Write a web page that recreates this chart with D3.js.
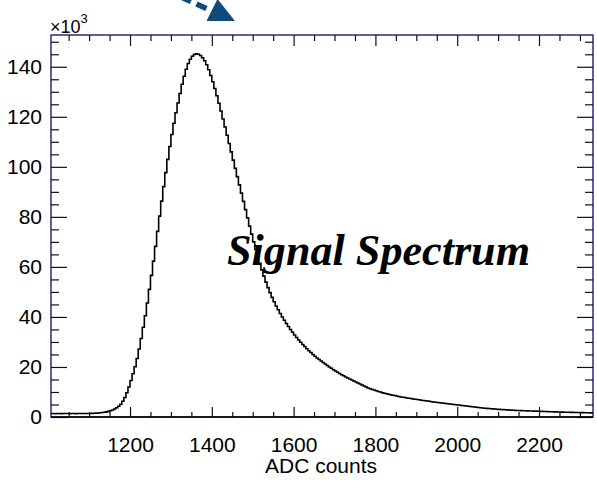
<!DOCTYPE html>
<html>
<head>
<meta charset="utf-8">
<script src="https://cdn.jsdelivr.net/npm/d3@7"></script>
<style>
	body { margin: 0; background: #fff; }
	svg { display: block; }
	.tick text { font-family: "Liberation Sans", Arial, sans-serif; font-size: 21px; fill: #000; }
</style>
</head>
<body>
<div id="visDiv"></div>
<script>
// histogram: first bin low edge and bin width (ADC counts)
var binStart = 1005,
	binWidth = 5;

// bin contents, in units of 10^3 entries
var counts = [
	1.37, 1.38, 1.36, 1.37, 1.38, 1.36, 1.37, 1.38, 1.37, 1.36,
	1.38, 1.37, 1.36, 1.38, 1.37, 1.38, 1.37, 1.39, 1.40, 1.42,
	1.45, 1.49, 1.54, 1.60, 1.68, 1.78, 1.90, 2.05, 2.25, 2.5,
	2.8, 3.2, 3.7, 4.3, 5.1, 6.3, 7.8, 9.7, 12.0, 14.6,
	17.3, 20.1, 23.4, 27.2, 31.4, 35.9, 40.5, 45.6, 51.0, 56.6,
	62.3, 68.2, 74.2, 80.3, 86.3, 92.1, 97.7, 103.0, 108.1, 112.9,
	117.4, 121.6, 125.5, 129.3, 133.0, 136.2, 139.0, 141.3, 143.0, 144.2,
	144.9, 145.2, 145.0, 144.5, 143.6, 142.4, 140.8, 138.8, 136.5, 134.0,
	131.3, 128.4, 125.4, 122.3, 119.1, 115.9, 112.6, 109.3, 106.0, 102.7,
	99.4, 96.1, 92.8, 89.5, 86.2, 82.9, 79.6, 76.3, 73.1, 70.0,
	67.0, 64.1, 61.4, 58.8, 56.3, 53.9, 51.7, 49.7, 47.8, 46.1,
	44.4, 42.9, 41.4, 40.0, 38.7, 37.4, 36.2, 35.0, 33.9, 32.8,
	31.8, 30.8, 29.9, 29.0, 28.2, 27.3, 26.5, 25.8, 25.0, 24.3,
	23.6, 23.0, 22.4, 21.8, 21.2, 20.6, 20.0, 19.5, 18.9, 18.4,
	17.9, 17.4, 16.9, 16.5, 16.0, 15.6, 15.2, 14.8, 14.4, 14.0,
	13.6, 13.2, 12.8, 12.4, 12.0, 11.6, 11.3, 11.0, 10.8, 10.5,
	10.2, 10.0, 9.7, 9.5, 9.3, 9.1, 8.9, 8.7, 8.6, 8.4,
	8.2, 8.0, 7.9, 7.8, 7.6, 7.5, 7.4, 7.2, 7.1, 7.0,
	6.9, 6.7, 6.6, 6.5, 6.4, 6.3, 6.1, 6.0, 5.9, 5.8,
	5.7, 5.6, 5.5, 5.4, 5.3, 5.2, 5.1, 5.0, 4.9, 4.8,
	4.7, 4.6, 4.5, 4.4, 4.3, 4.2, 4.1, 4.0, 3.9, 3.8,
	3.7, 3.6, 3.5, 3.45, 3.4, 3.3, 3.25, 3.2, 3.1, 3.05,
	3.0, 2.95, 2.9, 2.85, 2.8, 2.75, 2.7, 2.66, 2.62, 2.58,
	2.55, 2.51, 2.48, 2.45, 2.42, 2.39, 2.36, 2.33, 2.30, 2.27,
	2.24, 2.21, 2.18, 2.15, 2.12, 2.09, 2.06, 2.03, 2.00, 1.97,
	1.94, 1.92, 1.90, 1.88, 1.86, 1.84, 1.82, 1.80, 1.78, 1.76,
	1.74, 1.72, 1.70, 1.68, 1.66, 1.64
];

var xRange = [1006.8, 2332],
	yRange = [0, 152.7];

var xMajor = [1200, 1400, 1600, 1800, 2000, 2200],
	xMinor = [1050, 1100, 1150, 1250, 1300, 1350, 1450, 1500, 1550, 1650, 1700, 1750,
		1850, 1900, 1950, 2050, 2100, 2150, 2250, 2300],
	yMajor = [0, 20, 40, 60, 80, 100, 120, 140],
	yMinor = [5, 10, 15, 25, 30, 35, 45, 50, 55, 65, 70, 75, 85, 90, 95,
		105, 110, 115, 125, 130, 135, 145, 150];

var xTitle = 'ADC counts',
	label = 'Signal Spectrum';

(function () {
	var margin = {top: 35, right: 4, bottom: 66, left: 51},
		w = 597 - margin.left - margin.right,
		h = 483 - margin.top - margin.bottom,
		frameColor = '#2b2b7e';

	var svg = d3.select('#visDiv')
		.append('svg')
			.attr('width', 597)
			.attr('height', 483);

	var g = svg.append('g')
		.attr('transform', 'translate(' + margin.left + ',' + margin.top + ')');

	var x = d3.scaleLinear().domain(xRange).range([0, w]);
	var y = d3.scaleLinear().domain(yRange).range([h, 0]);

	// frame (navy on three sides, bottom axis black)
	g.append('rect')
		.attr('x', 0).attr('y', 0)
		.attr('width', w).attr('height', h)
		.style('fill', 'none')
		.style('stroke', frameColor)
		.style('stroke-width', 1.5);

	function noDomain(sel) {
		sel.select('.domain').remove();
		sel.selectAll('.tick line').style('stroke', '#111').style('stroke-width', 1.2);
	}

	// bottom axis: ticks inside
	g.append('g')
		.attr('transform', 'translate(0,' + h + ')')
		.call(d3.axisBottom(x).tickValues(xMajor).tickSizeInner(-10).tickPadding(20).tickFormat(d3.format('d')))
		.call(noDomain);
	g.append('g')
		.attr('transform', 'translate(0,' + h + ')')
		.call(d3.axisBottom(x).tickValues(xMinor).tickSizeInner(-5).tickFormat(''))
		.call(noDomain);
	// top axis
	g.append('g')
		.call(d3.axisTop(x).tickValues(xMajor).tickSizeInner(-11).tickFormat(''))
		.call(noDomain);
	g.append('g')
		.call(d3.axisTop(x).tickValues(xMinor).tickSizeInner(-6).tickFormat(''))
		.call(noDomain);
	// left axis
	g.append('g')
		.call(d3.axisLeft(y).tickValues(yMajor).tickSizeInner(-16).tickPadding(9).tickFormat(d3.format('d')))
		.call(noDomain);
	g.append('g')
		.call(d3.axisLeft(y).tickValues(yMinor).tickSizeInner(-8).tickFormat(''))
		.call(noDomain);
	// right axis
	g.append('g')
		.attr('transform', 'translate(' + w + ',0)')
		.call(d3.axisRight(y).tickValues(yMajor).tickSizeInner(-16).tickFormat(''))
		.call(noDomain);
	g.append('g')
		.attr('transform', 'translate(' + w + ',0)')
		.call(d3.axisRight(y).tickValues(yMinor).tickSizeInner(-8).tickFormat(''))
		.call(noDomain);

	// bottom axis line in black
	g.append('line')
		.attr('x1', 0).attr('x2', w)
		.attr('y1', h).attr('y2', h)
		.style('stroke', '#000')
		.style('stroke-width', 1.5);

	// histogram outline
	var pts = [];
	counts.forEach(function (c, i) {
		var lo = binStart + i * binWidth;
		pts.push([lo, c]);
		pts.push([lo + binWidth, c]);
	});

	g.append('clipPath').attr('id', 'clip')
		.append('rect').attr('width', w).attr('height', h);

	g.append('path')
		.datum(pts)
		.attr('clip-path', 'url(#clip)')
		.attr('d', d3.line()
			.x(function (d) { return x(d[0]); })
			.y(function (d) { return y(d[1]); }))
		.style('fill', 'none')
		.style('stroke', '#000')
		.style('stroke-width', 1.6)
		.style('stroke-linejoin', 'miter');

	// x10^3 exponent
	var ex = svg.append('text')
		.attr('x', 50)
		.attr('y', 33)
		.style('font-family', '"Liberation Sans", Arial, sans-serif')
		.style('font-size', '18px');
	ex.append('tspan').text('\u00d710');
	ex.append('tspan').attr('dy', -10).style('font-size', '13px').text('3');

	// x title
	svg.append('text')
		.attr('x', 321)
		.attr('y', 473)
		.style('text-anchor', 'middle')
		.style('font-family', '"Liberation Sans", Arial, sans-serif')
		.style('font-size', '21px')
		.text(xTitle);

	// label on the plot
	svg.append('text')
		.attr('x', 227)
		.attr('y', 265)
		.attr('textLength', 303)
		.attr('lengthAdjust', 'spacingAndGlyphs')
		.style('font-family', '"Liberation Serif", "DejaVu Serif", serif')
		.style('font-weight', 'bold')
		.style('font-style', 'italic')
		.style('font-size', '44px')
		.text(label);

	// blue dashed arrow poking in from the top
	var arrowColor = '#12497b';
	svg.append('line')
		.attr('x1', 150).attr('y1', -17)
		.attr('x2', 214).attr('y2', 12)
		.style('stroke', arrowColor)
		.style('stroke-width', 5.5)
		.style('stroke-dasharray', '11,6');
	svg.append('path')
		.attr('d', 'M235,21 L206.5,21 L217.5,-1 Z')
		.style('fill', arrowColor);
}());
</script>
</body>
</html>
